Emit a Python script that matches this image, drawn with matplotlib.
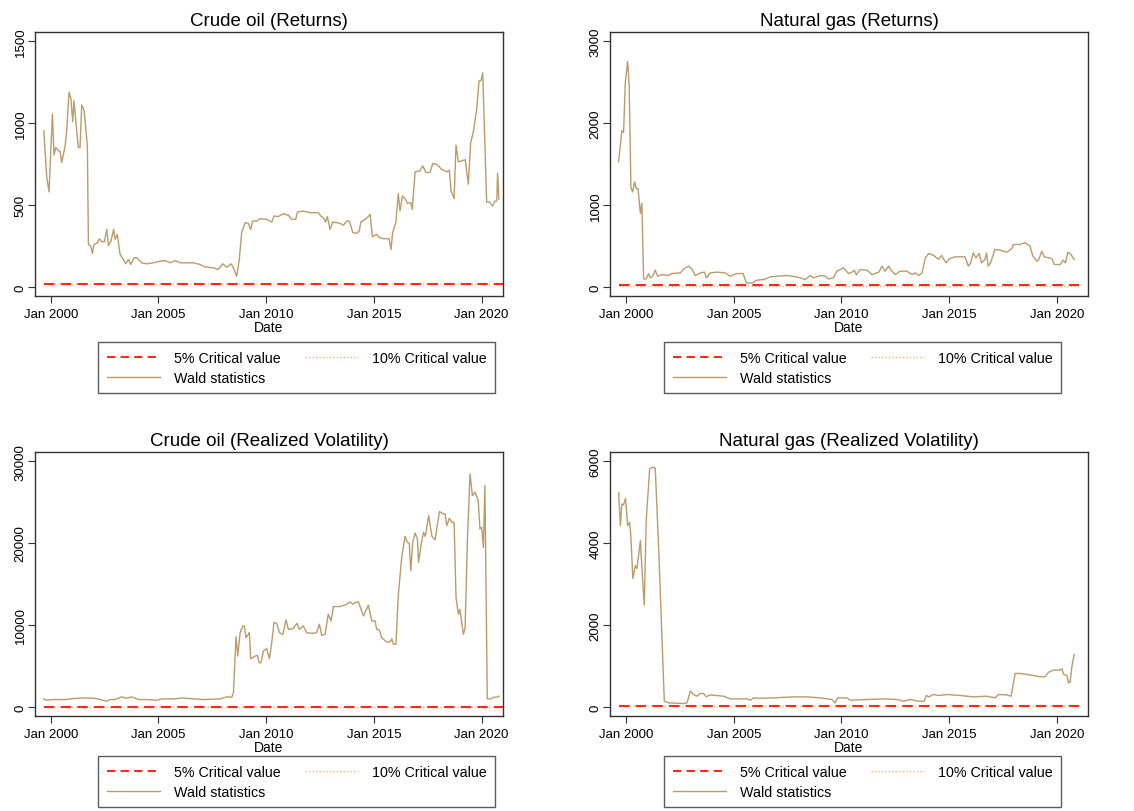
import numpy as np
import matplotlib
matplotlib.use("Agg")
from matplotlib import pyplot as plt
from matplotlib.lines import Line2D

plt.rcParams['font.family'] = ['Liberation Sans', 'DejaVu Sans']

# Crude oil (Returns): decimal year, Wald statistic
crude_ret_year = [
    1999.68, 1999.81, 1999.92, 2000.08, 2000.15, 2000.23, 2000.36, 2000.43,
    2000.51, 2000.67, 2000.74, 2000.85, 2000.94, 2001.02, 2001.08, 2001.21,
    2001.28, 2001.36, 2001.44, 2001.55, 2001.64, 2001.70, 2001.75, 2001.86,
    2001.93, 2002.01, 2002.17, 2002.26, 2002.37, 2002.49, 2002.60, 2002.68,
    2002.80, 2002.92, 2002.99, 2003.09, 2003.22, 2003.37, 2003.48, 2003.60,
    2003.71, 2003.87, 2003.99, 2004.22, 2004.45, 2004.76, 2005.07, 2005.31,
    2005.54, 2005.77, 2006.00, 2006.62, 2006.93, 2007.16, 2007.55, 2007.78,
    2007.98, 2008.17, 2008.37, 2008.48, 2008.63, 2008.75, 2008.86, 2009.02,
    2009.17, 2009.28, 2009.37, 2009.56, 2009.71, 2010.02, 2010.26, 2010.36,
    2010.56, 2010.80, 2011.03, 2011.18, 2011.37, 2011.45, 2011.72, 2012.03,
    2012.42, 2012.53, 2012.65, 2012.76, 2012.84, 2012.96, 2013.09, 2013.43,
    2013.58, 2013.74, 2013.86, 2014.02, 2014.20, 2014.32, 2014.39, 2014.59,
    2014.69, 2014.82, 2014.93, 2015.13, 2015.28, 2015.44, 2015.70, 2015.79,
    2015.87, 2016.02, 2016.13, 2016.21, 2016.32, 2016.44, 2016.55, 2016.71,
    2016.78, 2016.91, 2017.14, 2017.26, 2017.42, 2017.60, 2017.73, 2017.91,
    2018.14, 2018.38, 2018.50, 2018.58, 2018.72, 2018.81, 2018.92, 2019.07,
    2019.24, 2019.38, 2019.49, 2019.61, 2019.77, 2019.88, 2019.97, 2020.05,
    2020.23, 2020.36, 2020.51, 2020.62, 2020.70, 2020.74, 2020.80,
]
crude_ret_wald = [
    953, 678, 580, 1055, 804, 851, 830, 830,
    759, 861, 953, 1188, 1147, 1008, 1137, 943,
    851, 851, 1110, 1076, 943, 861, 259, 249,
    204, 259, 269, 294, 276, 276, 351, 253,
    280, 351, 290, 320, 198, 167, 141, 167,
    137, 178, 178, 147, 141, 147, 157, 161,
    147, 161, 147, 147, 137, 122, 116, 106,
    141, 120, 141, 116, 65, 167, 331, 392,
    388, 351, 402, 402, 416, 412, 396, 433,
    429, 447, 437, 412, 412, 457, 463, 453,
    453, 433, 422, 396, 429, 351, 396, 388,
    376, 402, 402, 331, 327, 341, 396, 412,
    422, 443, 306, 320, 300, 294, 294, 229,
    331, 396, 569, 463, 555, 539, 510, 514,
    473, 702, 708, 739, 698, 698, 753, 749,
    718, 702, 712, 586, 539, 865, 763, 769,
    776, 627, 882, 943, 1086, 1259, 1259, 1306,
    518, 518, 494, 524, 524, 694, 535,
]

# Natural gas (Returns)
gas_ret_year = [
    1999.66, 1999.81, 1999.89, 1999.97, 2000.08, 2000.15, 2000.23, 2000.31,
    2000.40, 2000.48, 2000.56, 2000.67, 2000.74, 2000.82, 2000.94, 2001.05,
    2001.13, 2001.24, 2001.36, 2001.47, 2001.67, 2001.98, 2002.13, 2002.52,
    2002.68, 2002.91, 2003.06, 2003.22, 2003.45, 2003.65, 2003.73, 2003.91,
    2004.22, 2004.61, 2004.84, 2005.15, 2005.43, 2005.59, 2005.85, 2006.08,
    2006.39, 2006.70, 2007.01, 2007.47, 2007.94, 2008.32, 2008.55, 2008.71,
    2009.02, 2009.25, 2009.40, 2009.63, 2009.79, 2010.09, 2010.33, 2010.49,
    2010.60, 2010.69, 2010.87, 2011.18, 2011.42, 2011.73, 2011.88, 2012.03,
    2012.19, 2012.34, 2012.50, 2012.73, 2013.04, 2013.27, 2013.43, 2013.58,
    2013.74, 2013.89, 2014.05, 2014.28, 2014.51, 2014.64, 2014.85, 2015.00,
    2015.27, 2015.73, 2015.89, 2016.00, 2016.11, 2016.24, 2016.39, 2016.50,
    2016.66, 2016.73, 2016.81, 2016.92, 2017.12, 2017.35, 2017.66, 2017.90,
    2017.98, 2018.28, 2018.52, 2018.75, 2018.88, 2019.06, 2019.14, 2019.30,
    2019.41, 2019.61, 2019.77, 2019.88, 2020.15, 2020.28, 2020.39, 2020.51,
    2020.65, 2020.80,
]
gas_ret_wald = [
    1531, 1906, 1886, 2498, 2751, 2457, 1212, 1159,
    1282, 1200, 1200, 898, 1020, 98, 98, 163,
    110, 131, 204, 131, 151, 139, 163, 171,
    220, 253, 220, 139, 171, 180, 110, 171,
    180, 171, 131, 163, 163, 49, 49, 82,
    90, 122, 131, 139, 122, 90, 139, 110,
    139, 131, 98, 110, 192, 233, 163, 180,
    204, 147, 212, 204, 151, 180, 253, 192,
    253, 192, 151, 192, 192, 151, 171, 139,
    171, 355, 408, 384, 335, 384, 294, 343,
    367, 367, 253, 294, 416, 355, 408, 294,
    335, 416, 253, 294, 457, 449, 424, 465,
    518, 518, 539, 498, 376, 314, 327, 437,
    367, 355, 343, 273, 273, 327, 294, 424,
    396, 335,
]

# Crude oil (Realized Volatility)
crude_rv_year = [
    1999.68, 1999.81, 2000.12, 2000.74, 2000.90, 2001.52, 2002.01, 2002.29,
    2002.60, 2002.75, 2002.99, 2003.29, 2003.53, 2003.76, 2004.07, 2004.45,
    2004.92, 2005.15, 2005.38, 2005.77, 2006.08, 2006.62, 2007.09, 2007.86,
    2008.17, 2008.40, 2008.48, 2008.60, 2008.68, 2008.79, 2008.91, 2008.99,
    2009.06, 2009.17, 2009.22, 2009.28, 2009.48, 2009.59, 2009.68, 2009.76,
    2009.87, 2010.02, 2010.15, 2010.26, 2010.36, 2010.49, 2010.61, 2010.77,
    2010.92, 2011.03, 2011.26, 2011.42, 2011.54, 2011.72, 2011.88, 2012.11,
    2012.34, 2012.47, 2012.58, 2012.73, 2012.88, 2013.01, 2013.12, 2013.43,
    2013.74, 2013.89, 2014.02, 2014.12, 2014.28, 2014.51, 2014.74, 2014.90,
    2015.05, 2015.13, 2015.25, 2015.36, 2015.59, 2015.75, 2015.83, 2015.90,
    2016.02, 2016.13, 2016.28, 2016.44, 2016.55, 2016.64, 2016.71, 2016.80,
    2016.91, 2017.02, 2017.07, 2017.18, 2017.30, 2017.38, 2017.54, 2017.69,
    2017.84, 2018.04, 2018.22, 2018.30, 2018.38, 2018.50, 2018.61, 2018.72,
    2018.81, 2018.92, 2018.99, 2019.15, 2019.23, 2019.34, 2019.46, 2019.57,
    2019.69, 2019.84, 2019.92, 2020.00, 2020.08, 2020.15, 2020.26, 2020.46,
    2020.54, 2020.70, 2020.80,
]
crude_rv_wald = [
    980, 816, 898, 898, 980, 1102, 1061, 898,
    694, 898, 898, 1224, 1061, 1224, 898, 898,
    816, 980, 980, 980, 1102, 980, 898, 980,
    1224, 1184, 1714, 8571, 6204, 9061, 9878, 9878,
    8449, 8857, 9061, 5878, 6204, 6286, 5388, 5388,
    6816, 7102, 5878, 7918, 10286, 10204, 9061, 8857,
    10612, 9469, 9551, 10204, 9469, 9878, 9061, 8980,
    9061, 10082, 8735, 8857, 11306, 10490, 12245, 12245,
    12531, 12816, 12531, 12735, 12816, 11102, 12408, 10490,
    10490, 9469, 9388, 8449, 7918, 7918, 8327, 7633,
    7633, 13551, 18041, 20816, 20082, 20000, 16612, 20082,
    21224, 20490, 17633, 19673, 21306, 20816, 23347, 20816,
    20408, 23837, 23551, 23551, 22122, 23020, 22531, 22531,
    13347, 11306, 11918, 8857, 9551, 20490, 28449, 25796,
    26204, 25184, 21714, 21918, 19469, 27020, 980, 980,
    1184, 1184, 1306,
]

# Natural gas (Realized Volatility)
gas_rv_year = [
    1999.66, 1999.74, 1999.81, 1999.89, 1999.98, 2000.08, 2000.17, 2000.23,
    2000.32, 2000.43, 2000.51, 2000.67, 2000.74, 2000.85, 2000.94, 2001.10,
    2001.25, 2001.36, 2001.52, 2001.64, 2001.78, 2001.98, 2002.68, 2002.83,
    2002.99, 2003.14, 2003.29, 2003.45, 2003.60, 2003.73, 2003.88, 2004.53,
    2004.84, 2005.38, 2005.61, 2005.77, 2005.92, 2006.23, 2006.85, 2007.78,
    2008.40, 2009.02, 2009.56, 2009.71, 2009.82, 2010.26, 2010.41, 2011.18,
    2011.96, 2012.58, 2012.88, 2013.19, 2013.58, 2013.84, 2013.94, 2014.05,
    2014.28, 2014.51, 2014.89, 2015.51, 2016.13, 2016.75, 2017.13, 2017.29,
    2017.67, 2017.87, 2018.06, 2018.29, 2018.60, 2018.91, 2019.22, 2019.45,
    2019.61, 2019.84, 2020.15, 2020.23, 2020.31, 2020.46, 2020.54, 2020.61,
    2020.69, 2020.80,
]
gas_rv_wald = [
    5224, 4424, 4955, 4931, 5094, 4424, 4506, 4139,
    3135, 3445, 3380, 4057, 3404, 2482, 4547, 5812,
    5853, 5829, 3853, 2139, 139, 98, 82, 98,
    384, 302, 261, 327, 327, 245, 294, 261,
    196, 196, 196, 163, 220, 212, 220, 245,
    245, 220, 180, 98, 220, 220, 163, 180,
    196, 180, 139, 180, 139, 139, 278, 245,
    302, 278, 302, 278, 245, 261, 220, 302,
    294, 261, 816, 816, 792, 767, 735, 735,
    849, 898, 898, 931, 792, 767, 588, 604,
    980, 1282,
]

crit_5 = 20
crit_10 = 17
crit_end = 2021.0

titles = [
    'Crude oil (Returns)', 'Natural gas (Returns)',
    'Crude oil (Realized Volatility)', 'Natural gas (Realized Volatility)',
]
series = [
    (crude_ret_year, crude_ret_wald), (gas_ret_year, gas_ret_wald),
    (crude_rv_year, crude_rv_wald), (gas_rv_year, gas_rv_wald),
]
y_ticks = [
    [0, 500, 1000, 1500], [0, 1000, 2000, 3000],
    [0, 10000, 20000, 30000], [0, 2000, 4000, 6000],
]
x_ticks = [2000, 2005, 2010, 2015, 2020]
x_labels = ['Jan %d' % y for y in x_ticks]

WALD_COLOR = '#BA9C6C'
RED = '#FF2A1A'
ORANGE = '#F7B27A'

W, H = 1134, 812
# plot regions in pixels: left, top, right, bottom
boxes = [(35, 33, 503, 297), (610, 33, 1088, 297),
         (35, 453, 503, 717), (610, 453, 1088, 717)]
xlims = [(1999.27, 2020.99), (1999.26, 2021.44),
         (1999.27, 2020.99), (1999.26, 2021.44)]
legend_corner = [(98, 343), (664, 343), (98, 757), (664, 757)]

fig = plt.figure(figsize=(W / 100, H / 100), dpi=100)

for i in range(4):
    left, top, right, bottom = boxes[i]
    ax = fig.add_axes([left / W, 1 - bottom / H,
                       (right - left) / W, (bottom - top) / H])
    years, wald = series[i]
    years = np.asarray(years)
    span = [years[0], min(crit_end, xlims[i][1])]

    ax.plot(span, [crit_10, crit_10], color=ORANGE, lw=1.0, ls=(0, (1, 1.5)))
    ax.plot(span, [crit_5, crit_5], color=RED, lw=1.5, ls=(0, (5, 3)))
    ax.plot(years, wald, color=WALD_COLOR, lw=1.0)

    top_tick = y_ticks[i][-1]
    pad = top_tick * 0.037
    ax.set_ylim(-pad, top_tick + pad)
    ax.set_xlim(*xlims[i])
    ax.set_yticks(y_ticks[i])
    ax.set_yticklabels([str(v) for v in y_ticks[i]], rotation=90, va='center')
    ax.set_xticks(x_ticks)
    ax.set_xticklabels(x_labels)
    ax.tick_params(labelsize=9.5, length=5, width=0.8, color='#333333')
    ax.tick_params(axis='x', pad=4)
    ax.tick_params(axis='y', pad=1)
    for sp in ax.spines.values():
        sp.set_linewidth(1.0)
        sp.set_color('#333333')
    ax.set_title(titles[i], fontsize=13.5, pad=5)
    ax.set_xlabel('Date', fontsize=10, labelpad=-0.5)

    handles = [
        Line2D([], [], color=RED, lw=1.5, ls=(0, (4, 2.5))),
        Line2D([], [], color=WALD_COLOR, lw=1.0),
        Line2D([], [], color=ORANGE, lw=1.0, ls=(0, (1, 1.5))),
    ]
    labels = ['5% Critical value', 'Wald statistics', '10% Critical value']
    lx, ly = legend_corner[i]
    leg = ax.legend(handles, labels, ncol=2, loc='upper left',
                    bbox_to_anchor=(lx / W, 1 - ly / H),
                    bbox_transform=fig.transFigure, borderaxespad=0,
                    fontsize=10.3, frameon=True, fancybox=False,
                    handlelength=3.7, handletextpad=1.0, columnspacing=1.7,
                    labelspacing=0.42, borderpad=0.6)
    leg.get_frame().set_edgecolor('#333333')
    leg.get_frame().set_linewidth(1.0)
    leg.set_zorder(1)

fig.savefig('out.png', dpi=100)
